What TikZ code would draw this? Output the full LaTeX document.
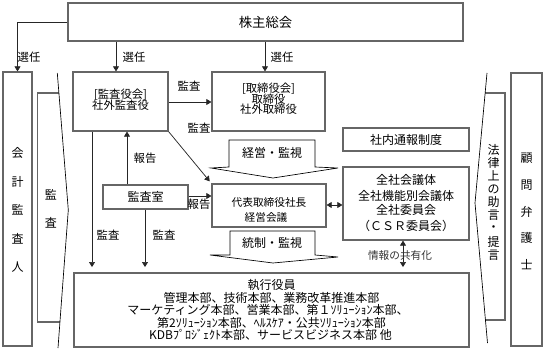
\documentclass[tikz,border=0pt]{standalone}
\usepackage{fontspec}
\setmainfont{Noto Sans CJK JP}
\usetikzlibrary{arrows.meta,fit}
\begin{document}
\begin{tikzpicture}[x=0.75pt,y=-0.75pt,
  box/.style={draw=black!60,line width=0.9pt,inner sep=0pt},
  txt/.style={inner sep=0pt,font=\fontsize{9}{11}\selectfont},
  lbl/.style={inner sep=0pt,font=\fontsize{8.5}{10}\selectfont},
  arr/.style={draw=black!85,line width=0.55pt,-{Triangle[length=3.8pt,width=4.5pt]}},
  darr/.style={draw=black!85,line width=0.55pt,{Triangle[length=3.8pt,width=4.5pt]}-{Triangle[length=3.8pt,width=4.5pt]}},
  wedge/.style={draw=black,line width=0.5pt},
  frame/.style={draw=black!60,line width=0.9pt}]
\useasboundingbox (0,0) rectangle (547,353);

% main boxes
\node[box,fit={(68,3)(463,41)}] (gm) {};
\node[txt,font=\fontsize{10}{12}\selectfont] (gmt) at (265.5,22) {株主総会};

\node[box,fit={(3,72)(32,346)}] (kaikei) {};
\foreach \c [count=\i] in {会,計,監,査,人}
  \node[txt] (kk\i) at (17.5,{153+28.5*(\i-1)}) {\c};

\node[box,fit={(511,73)(542,346)}] (komon) {};
\foreach \c [count=\i] in {顧,問,弁,護,士}
  \node[txt] (km\i) at (526.5,{158+26.75*(\i-1)}) {\c};

\node[box,fit={(73,72)(168,131)}] (ksy) {};
\node[txt,font=\fontsize{8.5}{10}\selectfont] (ksy1) at (120.5,95) {[監査役会]};
\node[txt,font=\fontsize{8.5}{10}\selectfont] (ksy2) at (120.5,105) {社外監査役};

\node[box,fit={(212,72)(325,131)}] (tori) {};
\node[txt,font=\fontsize{8.5}{10}\selectfont] (tori1) at (268.5,88.5) {[取締役会]};
\node[txt,font=\fontsize{8.5}{10}\selectfont] (tori2) at (268.5,99) {取締役};
\node[txt,font=\fontsize{8.5}{10}\selectfont] (tori3) at (268.5,109) {社外取締役};

\node[box,fit={(343,128)(469,151)}] (tsuho) {};
\node[txt] (tsuhot) at (406,139.5) {社内通報制度};

\node[box,fit={(343,167)(469,240)}] (zensha) {};
\node[txt] (zs1) at (406,180) {全社会議体};
\node[txt] (zs2) at (406,196) {全社機能別会議体};
\node[txt] (zs3) at (406,209.5) {全社委員会};
\node[txt] (zs4) at (406,226) {（ＣＳＲ委員会）};

\node[box,fit={(212,184)(326,227)}] (daihyo) {};
\node[txt,font=\fontsize{8}{10}\selectfont] (dh1) at (269,202) {代表取締役社長};
\node[txt,font=\fontsize{8}{10}\selectfont] (dh2) at (266,217) {経営会議};

\node[box,fit={(103,185)(188,209)}] (ksitsu) {};
\node[txt] (ksitsut) at (145.5,197) {監査室};

\node[box,fit={(74,273)(469,347)}] (exec) {};
\node[txt] (ex1) at (271.5,285) {執行役員};
\node[txt] (ex2) at (271.5,297.5) {管理本部、技術本部、業務改革推進本部};
\node[txt] (ex3) at (268,310) {マーケティング本部、営業本部、第１ｿﾘｭｰｼｮﾝ本部、};
\node[txt] (ex4) at (271.5,322.5) {第2ｿﾘｭｰｼｮﾝ本部、ﾍﾙｽｹｱ・公共ｿﾘｭｰｼｮﾝ本部};
\node[txt] (ex5) at (270.5,335) {KDBﾌﾟﾛｼﾞｪｸﾄ本部、サービスビジネス本部 他};

% left chevron (監査)
\draw[frame] (58.9,93) -- (37.3,93) -- (37.3,322) -- (59.9,322);
\draw[wedge] (57.3,73) -- (68.3,210) -- (58,348);
\node[txt] (kansa1) at (51,195) {監};
\node[txt] (kansa2) at (51,223) {査};

% right chevron (法律上の助言・提言)
\draw[frame] (485.2,93) -- (505,93) -- (505,320) -- (485.4,320);
\draw[wedge] (487,73) -- (475,203) -- (487.5,343);
\foreach \c [count=\i] in {法,律,上,の,助,言,・,提,言}
  \node[txt] (hr\i) at (493.5,{150+13.1*(\i-1)}) {\c};

% callouts
\draw[wedge] (229,140) -- (315,140) -- (315,167) -- (338,168) -- (273,178) -- (211,168) -- (229,167) -- cycle;
\node[txt] (keiei) at (272,153) {経営・監視};
\draw[wedge] (230,231) -- (315,231) -- (315,255) -- (338,257) -- (273,263) -- (210,255) -- (230,255) -- cycle;
\node[txt] (tosei) at (272,243) {統制・監視};

% arrows from shareholders
\draw[arr] (gm.west) -| (kaikei.north);
\node[lbl] (s1) at (29,57) {選任};
\draw[arr] (gm.south -| 116,0) -- (116,0 |- ksy.north);
\node[lbl] (s2) at (134,57) {選任};
\draw[arr] (gm.south -| 265,0) -- (265,0 |- tori.north);
\node[lbl] (s3) at (282,57) {選任};

% audit arrows
\draw[arr] (ksy.east |- 0,102) -- (tori.west |- 0,102);
\node[lbl] (a1) at (189,86) {監査};
\draw[arr,shorten >=2pt] (ksy.south east) -- (daihyo.north west);
\node[lbl] (a2) at (199,128) {監査};
\draw[arr] (127,0 |- ksitsu.north) -- (127,0 |- ksy.south);
\node[lbl] (r1) at (145,158) {報告};
\draw[arr] (ksitsu.east |- 0,196) -- (daihyo.west |- 0,196);
\node[lbl] (r2) at (199,204) {報告};
\draw[darr] (daihyo.east |- 0,205) -- (zensha.west |- 0,205);
\draw[arr,shorten >=4pt] (92,0 |- ksy.south) -- (92,0 |- exec.north);
\node[lbl] (a3) at (108,235) {監査};
\draw[arr,shorten >=4pt] (145,0 |- ksitsu.south) -- (145,0 |- exec.north);
\node[lbl] (a4) at (164,235) {監査};
\draw[darr,shorten >=4pt] (403,0 |- zensha.south) -- (403,0 |- exec.north);
\node[lbl,text=black!80,font=\fontsize{8}{10}\selectfont] (joho) at (400,255) {情報の共有化};
\end{tikzpicture}
\end{document}
